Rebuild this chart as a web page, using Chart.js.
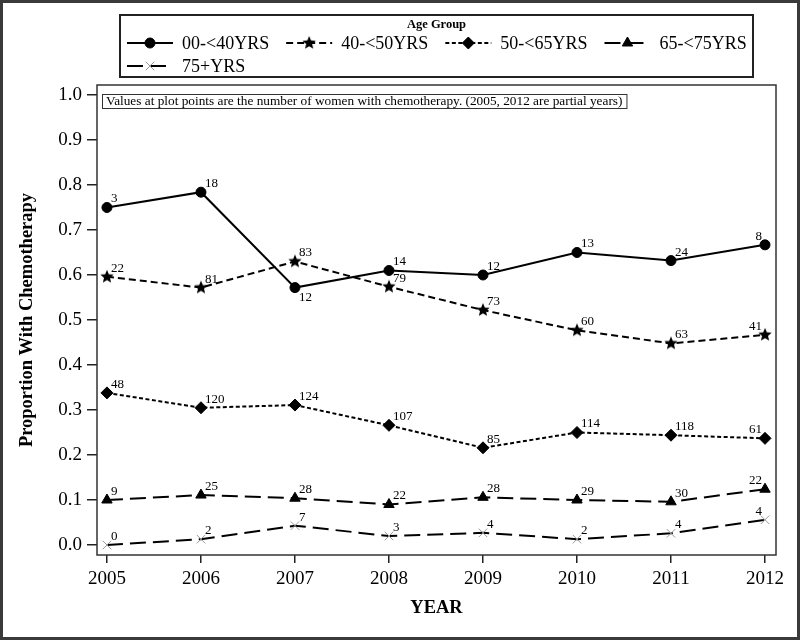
<!DOCTYPE html>
<html>
<head>
<meta charset="utf-8">
<script src="https://cdn.jsdelivr.net/npm/chart.js@4.4.1/dist/chart.umd.min.js"></script>
<style>
  html, body { margin: 0; padding: 0; background: #fff; }
  canvas { display: block; }
</style>
</head>
<body>
<canvas id="chemoChart" width="800" height="640"></canvas>
<script>
const years = [2005, 2006, 2007, 2008, 2009, 2010, 2011, 2012];
const groupNames = ['00-<40YRS', '40-<50YRS', '50-<65YRS', '65-<75YRS', '75+YRS'];

// proportion with chemotherapy
const propUnder40 = [0.750, 0.784, 0.572, 0.610, 0.600, 0.650, 0.632, 0.667];
const prop40to50  = [0.596, 0.572, 0.630, 0.574, 0.522, 0.477, 0.448, 0.467];
const prop50to65  = [0.338, 0.305, 0.311, 0.266, 0.216, 0.250, 0.244, 0.237];
const prop65to75  = [0.100, 0.111, 0.104, 0.090, 0.106, 0.100, 0.096, 0.124];
const prop75plus  = [0.000, 0.013, 0.043, 0.020, 0.027, 0.013, 0.026, 0.056];

// number of women with chemotherapy (labels at the points)
const countUnder40 = [3, 18, 12, 14, 12, 13, 24, 8];
const count40to50  = [22, 81, 83, 79, 73, 60, 63, 41];
const count50to65  = [48, 120, 124, 107, 85, 114, 118, 61];
const count65to75  = [9, 25, 28, 22, 28, 29, 30, 22];
const count75plus  = [0, 2, 7, 3, 4, 2, 4, 4];

const yTicks = [0.0, 0.1, 0.2, 0.3, 0.4, 0.5, 0.6, 0.7, 0.8, 0.9, 1.0];
const noteText = 'Values at plot points are the number of women with chemotherapy. (2005, 2012 are partial years)';

const SERIF = '"Liberation Serif", "Times New Roman", serif';
Chart.defaults.font.family = SERIF;
Chart.defaults.color = '#000';

// filled five point star, Chart.js has only the asterisk kind
function makeStar(r) {
    const c = document.createElement('canvas');
    const s = Math.ceil(r * 2 + 2);
    c.width = s; c.height = s;
    const g = c.getContext('2d');
    g.fillStyle = '#000';
    g.beginPath();
    for (let i = 0; i < 10; i++) {
        const rad = i % 2 === 0 ? r : r * 0.45;
        const a = -Math.PI / 2 + i * Math.PI / 5;
        const px = s / 2 + rad * Math.cos(a), py = s / 2 + rad * Math.sin(a);
        if (i === 0) g.moveTo(px, py); else g.lineTo(px, py);
    }
    g.closePath();
    g.fill();
    return c;
}
const starImg = makeStar(7);

function series(label, values, counts, dash, pointStyle, radius, pointColor) {
    return {
        label: label,
        data: values.map((v, i) => ({ x: years[i], y: v })),
        counts: counts,
        borderColor: '#000',
        borderWidth: 2,
        borderDash: dash,
        pointStyle: pointStyle,
        pointRadius: radius,
        pointHoverRadius: radius,
        pointBackgroundColor: pointColor,
        pointBorderColor: pointColor,
        pointBorderWidth: 1,
        fill: false,
        tension: 0
    };
}

const decorPlugin = {
    id: 'decor',
    beforeDraw(chart) {
        const ctx = chart.ctx;
        ctx.save();
        ctx.fillStyle = '#fff';
        ctx.fillRect(0, 0, chart.width, chart.height);
        ctx.restore();
    },
    afterDatasetsDraw(chart) {
        const ctx = chart.ctx;
        ctx.save();
        ctx.font = '13px ' + SERIF;
        ctx.fillStyle = '#000';
        chart.data.datasets.forEach((ds, di) => {
            const meta = chart.getDatasetMeta(di);
            meta.data.forEach((pt, i) => {
                let x = pt.x + 4, y = pt.y - 2;
                ctx.textAlign = 'left';
                ctx.textBaseline = 'bottom';
                if (i === meta.data.length - 1) {
                    ctx.textAlign = 'right';
                    x = pt.x - 3;
                } else if (i > 0 && ds.data[i].y < ds.data[i - 1].y - 0.1) {
                    ctx.textBaseline = 'top';
                    y = pt.y + 3;
                }
                ctx.fillText(String(ds.counts[i]), x, y);
            });
        });
        ctx.restore();
    },
    afterDraw(chart) {
        const ctx = chart.ctx;
        const a = chart.chartArea;
        ctx.save();
        // plot frame
        ctx.strokeStyle = '#333';
        ctx.lineWidth = 1.5;
        ctx.strokeRect(a.left, a.top, a.right - a.left, a.bottom - a.top);

        // note box
        ctx.font = '13.3px ' + SERIF;
        const nw = ctx.measureText(noteText).width;
        ctx.fillStyle = '#fff';
        ctx.fillRect(a.left + 5, a.top + 9, nw + 8, 14);
        ctx.lineWidth = 1;
        ctx.strokeRect(a.left + 5.5, a.top + 9.5, nw + 8, 14);
        ctx.fillStyle = '#000';
        ctx.textAlign = 'left';
        ctx.textBaseline = 'middle';
        ctx.fillText(noteText, a.left + 9, a.top + 17);

        // legend
        const lx = 120, ly = 15, lw = 633, lh = 62;
        ctx.lineWidth = 2;
        ctx.strokeStyle = '#222';
        ctx.strokeRect(lx, ly, lw, lh);
        ctx.font = 'bold 12.5px ' + SERIF;
        ctx.textAlign = 'center';
        ctx.fillText('Age Group', lx + lw / 2, ly + 10);

        ctx.font = '18px ' + SERIF;
        ctx.textAlign = 'left';
        const rows = [[0, 1, 2, 3], [4]];
        const rowY = [43, 66];
        const sampleLen = 46;
        rows.forEach((row, r) => {
            let x = 127;
            row.forEach(di => {
                const ds = chart.data.datasets[di];
                const y = rowY[r];
                ctx.strokeStyle = '#000';
                ctx.lineWidth = 2;
                ctx.setLineDash(ds.borderDash);
                ctx.beginPath();
                ctx.moveTo(x, y);
                ctx.lineTo(x + sampleLen, y);
                ctx.stroke();
                ctx.setLineDash([]);
                ctx.fillStyle = ds.pointBackgroundColor;
                ctx.strokeStyle = ds.pointBorderColor;
                ctx.lineWidth = 1;
                Chart.helpers.drawPoint(ctx, {
                    pointStyle: ds.pointStyle, radius: ds.pointRadius, rotation: 0, borderWidth: 1
                }, x + sampleLen / 2, y);
                ctx.fillStyle = '#000';
                const tx = x + sampleLen + 9;
                ctx.fillText(ds.label, tx, y + 1);
                x = tx + ctx.measureText(ds.label).width + 17;
            });
        });

        // outer frame of the picture
        ctx.strokeStyle = '#3a3a3a';
        ctx.lineWidth = 3;
        ctx.strokeRect(1.5, 1.5, chart.width - 3, chart.height - 3);
        ctx.restore();
    }
};

const ctx = document.getElementById('chemoChart').getContext('2d');
const chemoChart = new Chart(ctx, {
    type: 'line',
    data: {
        datasets: [
            series(groupNames[0], propUnder40, countUnder40, [], 'circle', 5, '#000'),
            series(groupNames[1], prop40to50, count40to50, [7, 4], starImg, 7, '#000'),
            series(groupNames[2], prop50to65, count50to65, [4, 2.5], 'rectRot', 6, '#000'),
            series(groupNames[3], prop65to75, count65to75, [16, 7], 'triangle', 6, '#000'),
            series(groupNames[4], prop75plus, count75plus, [16, 7], 'crossRot', 6, '#999')
        ]
    },
    options: {
        responsive: false,
        animation: false,
        layout: { padding: { top: 85, right: 24, left: 0, bottom: 0 } },
        plugins: {
            legend: { display: false },
            tooltip: { enabled: false }
        },
        scales: {
            x: {
                type: 'linear',
                min: 2004.894,
                max: 2012.117,
                afterBuildTicks: scale => { scale.ticks = years.map(v => ({ value: v })); },
                afterFit: scale => { scale.height = 85; },
                border: { display: false },
                grid: { drawOnChartArea: false, drawTicks: true, tickLength: 8, color: '#222', lineWidth: 1.5 },
                ticks: {
                    padding: 5,
                    maxRotation: 0,
                    autoSkip: false,
                    font: { size: 19 },
                    callback: v => String(v)
                },
                title: {
                    display: true,
                    text: 'YEAR',
                    font: { size: 18.5, weight: 'bold' },
                    padding: { top: 0, bottom: 21 }
                }
            },
            y: {
                min: -0.0222,
                max: 1.0222,
                afterBuildTicks: scale => { scale.ticks = yTicks.map(v => ({ value: v })); },
                afterFit: scale => { scale.width = 97; },
                border: { display: false },
                grid: { drawOnChartArea: false, drawTicks: true, tickLength: 10, color: '#222', lineWidth: 1.5 },
                ticks: {
                    padding: 5,
                    font: { size: 19 },
                    callback: v => v.toFixed(1)
                },
                title: {
                    display: true,
                    text: 'Proportion With Chemotherapy',
                    font: { size: 18.5, weight: 'bold' },
                    padding: { top: 16, bottom: 0 }
                }
            }
        }
    },
    plugins: [decorPlugin]
});
</script>
</body>
</html>
